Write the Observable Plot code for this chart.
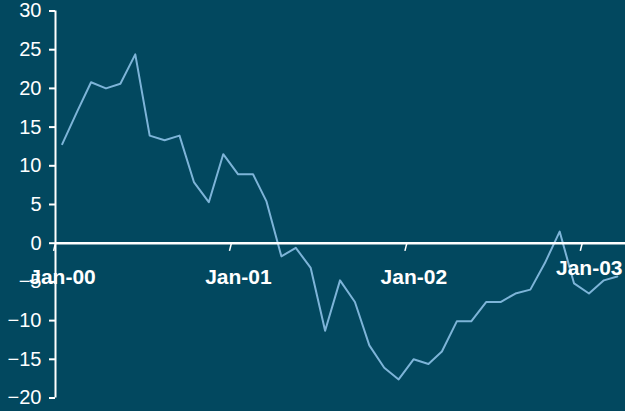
<!DOCTYPE html>
<html>
<head>
<meta charset="utf-8">
<script src="https://cdn.jsdelivr.net/npm/d3@7"></script>
<script src="https://cdn.jsdelivr.net/npm/@observablehq/plot@0.6"></script>
<style>
  html, body { margin: 0; padding: 0; background: #02485f; overflow: hidden; }
  #chart { width: 625px; height: 411px; }
</style>
</head>
<body>
<div id="chart"></div>
<script>
// Monthly observations (mid-month), Jan-2000 .. Mar-2003
const months = [
  "2000-01","2000-02","2000-03","2000-04","2000-05","2000-06","2000-07","2000-08","2000-09","2000-10","2000-11","2000-12",
  "2001-01","2001-02","2001-03","2001-04","2001-05","2001-06","2001-07","2001-08","2001-09","2001-10","2001-11","2001-12",
  "2002-01","2002-02","2002-03","2002-04","2002-05","2002-06","2002-07","2002-08","2002-09","2002-10","2002-11","2002-12",
  "2003-01","2003-02","2003-03"
];
const values = [
  12.8, 17.0, 20.8, 20.0, 20.6, 24.4, 13.9, 13.3, 13.9, 7.9, 5.3, 11.5,
  8.9, 8.9, 5.4, -1.7, -0.6, -3.2, -11.3, -4.8, -7.6, -13.2, -16.1, -17.6,
  -15.0, -15.6, -14.0, -10.1, -10.1, -7.6, -7.6, -6.5, -6.0, -2.6, 1.5, -5.2,
  -6.5, -4.8, -4.3
];
const tickMonths = ["2000-01", "2001-01", "2002-01", "2003-01"];
const tickLabels = ["Jan-00", "Jan-01", "Jan-02", "Jan-03"];
const yTicks = [-20, -15, -10, -5, 0, 5, 10, 15, 20, 25, 30];

const parseMonth = d3.utcParse("%Y-%m");
const data = months.map((m, i) => ({date: d3.utcDay.offset(parseMonth(m), 14), value: values[i]}));
const xTicks = tickMonths.map((m, i) => ({date: parseMonth(m), label: tickLabels[i]}));
const xStart = parseMonth("2000-01");
const xEnd = parseMonth("2003-04");

const white = "#ffffff";
const labelStyle = {x: "date", y: 0, text: "label", dx: 7, fill: white, fontSize: 21, fontWeight: "bold", textAnchor: "middle"};
const chart = Plot.plot({
  width: 625,
  height: 411,
  marginLeft: 55,
  marginRight: 0,
  marginTop: 10.5,
  marginBottom: 13.5,
  style: {background: "#02485f", fontFamily: "'Liberation Sans', Arial, sans-serif", overflow: "visible"},
  x: {type: "utc", domain: [xStart, xEnd], axis: null},
  y: {domain: [-20, 30], axis: null},
  marks: [
    Plot.line(data, {x: "date", y: "value", stroke: "#7db4d8", strokeWidth: 2}),
    Plot.ruleY([0], {stroke: white, strokeWidth: 2.5}),
    Plot.link(xTicks, {
      x1: "date", x2: d => d3.utcDay.offset(d.date, -4),
      y1: 0, y2: -1, stroke: white, strokeWidth: 1.5
    }),
    Plot.text(xTicks.filter(d => d.label !== "Jan-03"), {...labelStyle, dy: 34}),
    Plot.text(xTicks.filter(d => d.label === "Jan-03"), {...labelStyle, dy: 25}),
    Plot.ruleX([xStart], {y1: -20, y2: 30, stroke: white, strokeWidth: 2}),
    Plot.axisY(yTicks, {
      anchor: "left", tickSize: 6, tickPadding: 8, stroke: white, strokeWidth: 2,
      color: white, fontSize: 20, label: null
    })
  ]
});
document.getElementById("chart").appendChild(chart);
</script>
</body>
</html>
